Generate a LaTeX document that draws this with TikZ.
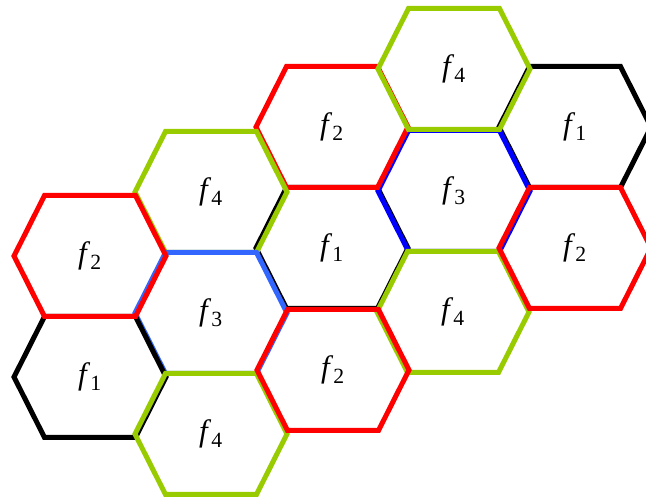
\documentclass[tikz,border=0pt]{standalone}
\usepackage{fontspec}
\setmainfont{Liberation Serif}
\definecolor{cellred}{RGB}{255,0,0}
\definecolor{cellgreen}{RGB}{153,204,0}
\definecolor{cellblue}{RGB}{51,102,255}
\definecolor{celldeep}{RGB}{0,0,255}
\tikzset{cell/.style={line width=5pt},
  flabel/.style={font=\fontsize{31}{33}\selectfont,inner sep=0pt}}

\begin{document}
\begin{tikzpicture}[x=1pt,y=-1pt]
\useasboundingbox (0,0) rectangle (646,502);
% cells in drawing order: name/x/y/colour/index
\foreach \n/\x/\y/\c/\i in {
  cb/332/248/black/1, ce/575/127/black/1,
  ci/454/191/celldeep/3, cc/332/127/cellred/2, cf/211/192/cellgreen/4,
  cg/211/313/cellblue/3, ca/90/377/black/1, ch/454/69/cellgreen/4,
  ck/453/312/cellgreen/4, cl/211/434/cellgreen/4, cm/333/370/cellred/2,
  cn/575/248/cellred/2, co/90/256/cellred/2}{
  \draw[cell,\c] (\x-76,\y) -- (\x-45.5,\y-60.5) -- (\x+45.5,\y-60.5)
    -- (\x+76,\y) -- (\x+45.5,\y+60.5) -- (\x-45.5,\y+60.5) -- cycle;
  \node[flabel] (\n) at (\x,\y) {\textit{f}\textsubscript{\i}};
}
\end{tikzpicture}
\end{document}
